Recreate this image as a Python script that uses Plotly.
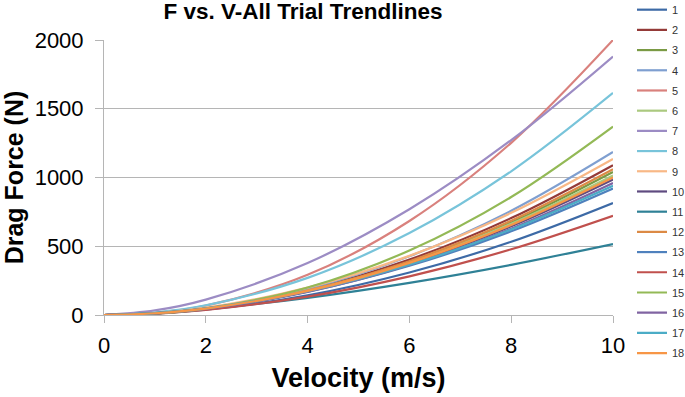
import plotly.graph_objects as go

# Velocity sample points (m/s)
velocity = [0, 1, 2, 4, 6, 8, 10]

# Trendline drag force (N) per trial
trial_names = [str(i) for i in range(1, 19)]
force_1 = [0, 10.3, 38, 143, 309, 533, 815]
force_2 = [0, 12.2, 47, 183, 403, 705, 1090]
force_3 = [0, 11.7, 45, 174, 384, 673, 1040]
force_4 = [0, 11.9, 47, 190, 427, 758, 1185]
force_5 = [0, 15.9, 68, 292, 684, 1252, 2000]
force_6 = [0, 12.8, 48, 178, 385, 664, 1015]
force_7 = [0, 33.4, 112, 378, 769, 1272, 1880]
force_8 = [0, 18.1, 70, 270, 596, 1045, 1615]
force_9 = [0, 14.3, 53, 199, 430, 743, 1135]
force_10 = [0, 12.4, 46, 173, 373, 645, 985]
force_11 = [0, 14.6, 43, 125, 234, 365, 516]
force_12 = [0, 11.9, 46, 178, 391, 686, 1060]
force_13 = [0, 13.0, 47, 169, 358, 609, 920]
force_14 = [0, 10.2, 37, 133, 281, 478, 722]
force_15 = [0, 10.9, 47, 200, 469, 858, 1370]
force_16 = [0, 12.1, 45, 168, 364, 628, 960]
force_17 = [0, 13.3, 48, 173, 365, 622, 940]
force_18 = [0, 12.6, 47, 175, 379, 655, 1000]

forces = [force_1, force_2, force_3, force_4, force_5, force_6, force_7, force_8,
          force_9, force_10, force_11, force_12, force_13, force_14, force_15,
          force_16, force_17, force_18]

colors = ["#3D6AA6", "#943A38", "#7A9A44", "#7F9FD0", "#D9817D", "#ABC97F",
          "#9C8CC4", "#78C4DA", "#F8B886", "#5F4B80", "#2F8196", "#DC8A45",
          "#4F81BD", "#C0504D", "#93B956", "#8064A2", "#4BACC6", "#F79646"]

x_ticks = [0, 2, 4, 6, 8, 10]
y_ticks = [0, 500, 1000, 1500, 2000]

FONT = "Liberation Sans, Arial, Helvetica, sans-serif"

fig = go.Figure()
for name, f, c in zip(trial_names, forces, colors):
    fig.add_trace(go.Scatter(
        x=velocity, y=f, mode="lines", name=name,
        line=dict(color=c, width=2.2, shape="spline", smoothing=1.0),
        legendgroup=name, cliponaxis=False,
    ))

fig.update_layout(
    width=685, height=397,
    margin=dict(l=104, r=72, t=40, b=82, autoexpand=False),
    paper_bgcolor="white", plot_bgcolor="white",
    font=dict(family=FONT, color="black"),
    title=dict(text="<b>F vs. V-All Trial Trendlines</b>", x=303 / 685, xanchor="center",
               y=1.0, yanchor="top", yref="container", pad=dict(t=3),
               font=dict(size=22.5, family=FONT, color="black")),
    legend=dict(x=632 / 685, xref="container", xanchor="left", y=1.163, yref="paper",
                yanchor="top", font=dict(size=11, family=FONT, color="#333333"),
                tracegroupgap=1.2, itemwidth=30, bgcolor="rgba(0,0,0,0)",
                traceorder="grouped", maxheight=1),
    showlegend=True,
)

fig.update_xaxes(
    range=[0, 10], tickvals=x_ticks, ticktext=[str(v) for v in x_ticks],
    showgrid=False, zeroline=False, showline=True, linecolor="#B5B5B5", linewidth=1,
    ticks="outside", ticklen=7, tickcolor="#B5B5B5", tickwidth=1,
    tickfont=dict(size=22, family=FONT, color="black"), ticklabelstandoff=4,
    title=dict(text="<b>Velocity (m/s)</b>", font=dict(size=27, family=FONT, color="black"),
               standoff=10),
    fixedrange=True,
)
fig.update_yaxes(
    range=[0, 2000], tickvals=y_ticks, ticktext=[str(v) for v in y_ticks],
    showgrid=True, gridcolor="#B5B5B5", gridwidth=1,
    zeroline=False, showline=True, linecolor="#B5B5B5", linewidth=1,
    ticks="outside", ticklen=8, tickcolor="#B5B5B5", tickwidth=1,
    tickfont=dict(size=22, family=FONT, color="black"), ticklabelstandoff=7,
    title=dict(text="<b>Drag Force (N)</b>", font=dict(size=25, family=FONT, color="black"),
               standoff=3),
    fixedrange=True,
)

fig.write_html("out.html", config={"displayModeBar": False},
               post_script="document.body.style.margin='0px';document.body.style.padding='0px';")
